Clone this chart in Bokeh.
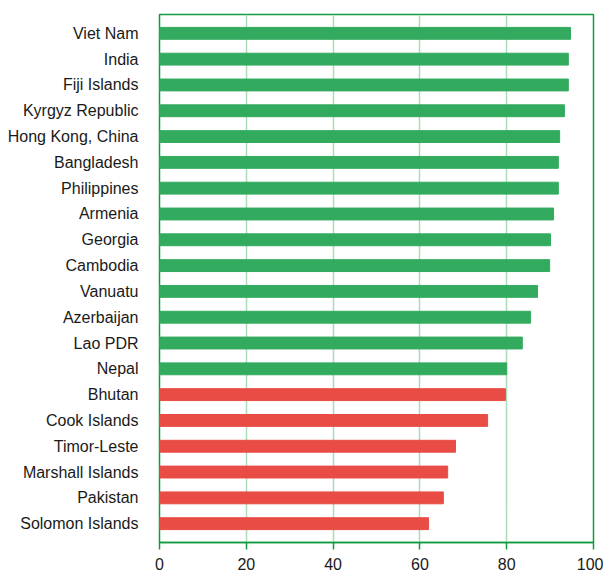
from bokeh.plotting import figure
from bokeh.models import ColumnDataSource, FactorRange
from bokeh.embed import file_html
from bokeh.resources import INLINE

countries = ["Viet Nam", "India", "Fiji Islands", "Kyrgyz Republic", "Hong Kong, China",
             "Bangladesh", "Philippines", "Armenia", "Georgia", "Cambodia", "Vanuatu",
             "Azerbaijan", "Lao PDR", "Nepal", "Bhutan", "Cook Islands", "Timor-Leste",
             "Marshall Islands", "Pakistan", "Solomon Islands"]
values = [94.7, 94.2, 94.2, 93.3, 92.2, 91.9, 91.9, 90.8, 90.1, 89.9, 87.1,
          85.5, 83.6, 80.0, 79.7, 75.6, 68.2, 66.4, 65.4, 62.0]
groups = ["high"] * 14 + ["low"] * 6
x_ticks = [0, 20, 40, 60, 80, 100]

GREEN = "#33ab5f"
RED = "#e84c44"
colors = [GREEN if g == "high" else RED for g in groups]

src = ColumnDataSource(dict(country=countries, value=values, color=colors))

p = figure(width=603, height=576, output_backend="svg", toolbar_location=None,
           y_range=FactorRange(factors=list(reversed(countries)), range_padding=0.23,
                               range_padding_units="absolute"),
           x_range=(0, 100),
           min_border_left=159, min_border_right=10, min_border_top=14, min_border_bottom=34)

p.hbar(y="country", right="value", left=0, height=0.46, color="color", source=src)

p.outline_line_color = "#119a3f"
p.outline_line_width = 1.5
p.background_fill_color = "white"
p.border_fill_color = "white"

p.ygrid.grid_line_color = None
p.xgrid.grid_line_color = "#a9dcb7"
p.xgrid.grid_line_width = 1.5
p.xaxis.ticker = x_ticks

p.xaxis.axis_line_color = "#119a3f"
p.xaxis.axis_line_width = 1.5
p.xaxis.major_tick_line_color = "#119a3f"
p.xaxis.major_tick_line_width = 1.5
p.xaxis.major_tick_in = 0
p.xaxis.major_tick_out = 7
p.xaxis.minor_tick_line_color = None
p.xaxis.major_label_text_font = "Liberation Sans"
p.xaxis.major_label_text_font_size = "16px"
p.xaxis.major_label_text_color = "#1a1a1a"
p.xaxis.major_label_standoff = 8

p.yaxis.axis_line_color = None
p.yaxis.major_tick_line_color = None
p.yaxis.minor_tick_line_color = None
p.yaxis.major_label_text_font = "Liberation Sans"
p.yaxis.major_label_text_font_size = "16px"
p.yaxis.major_label_text_color = "#1a1a1a"
p.yaxis.major_label_standoff = 15

open("out.html", "w").write(file_html(p, INLINE))
